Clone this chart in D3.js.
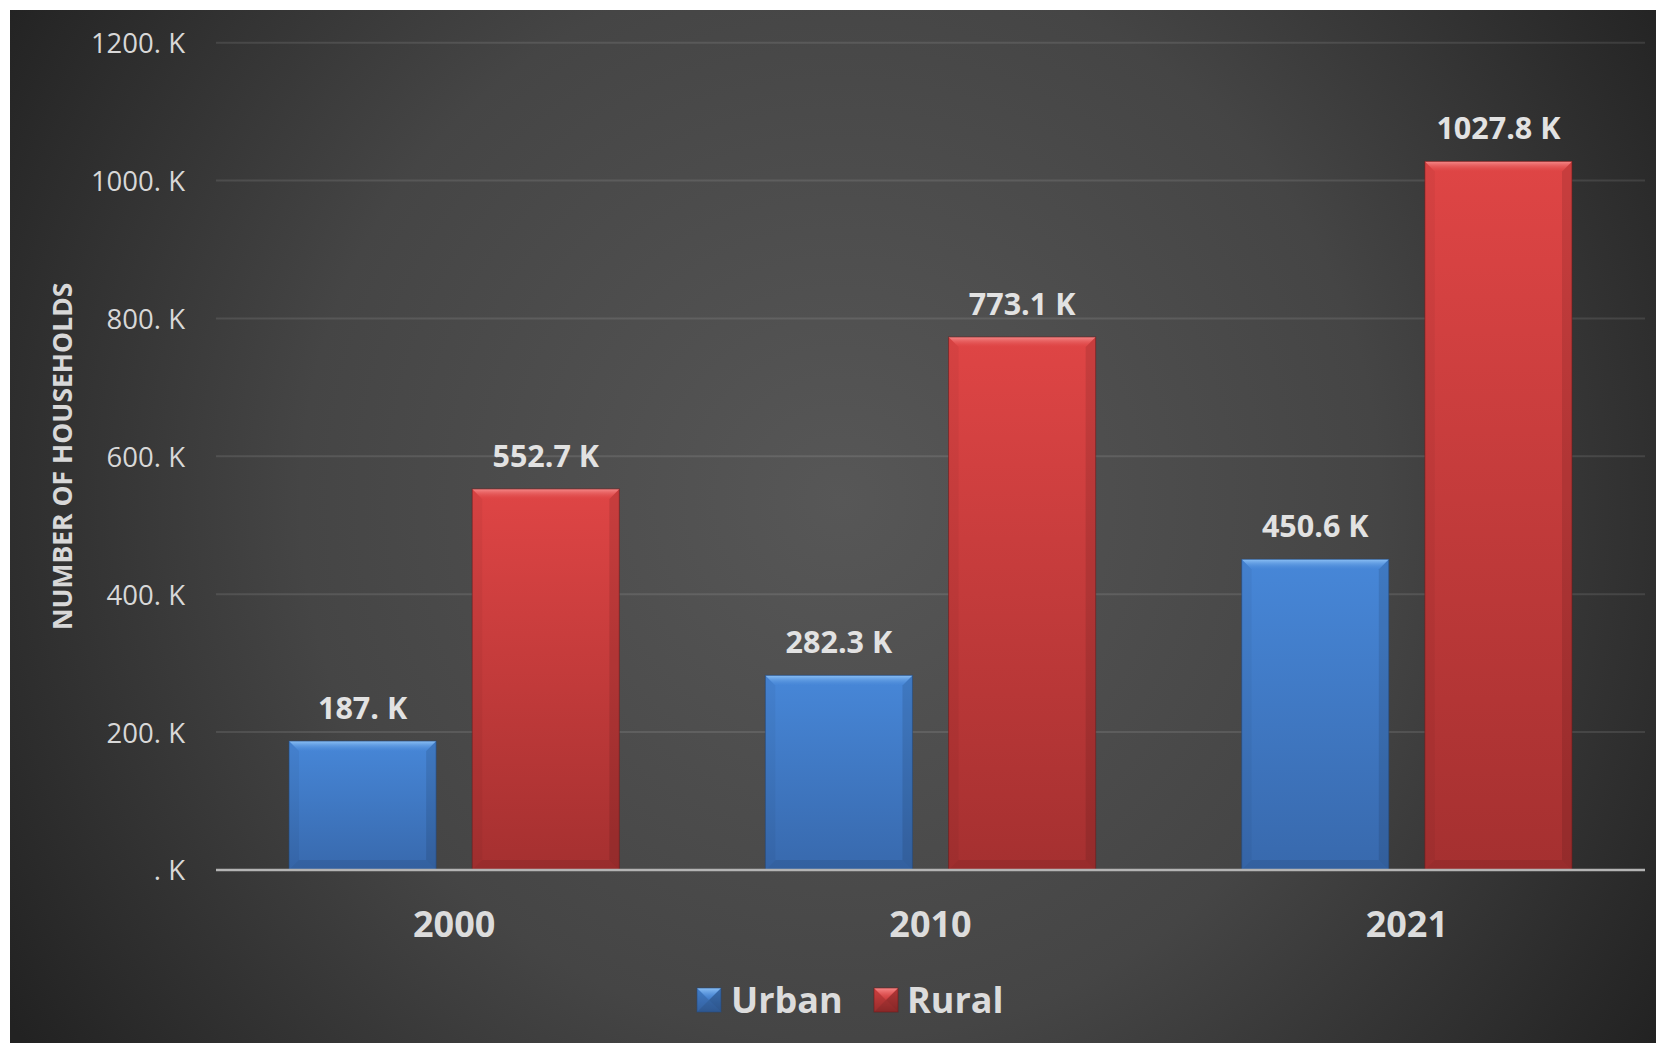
<!DOCTYPE html>
<html>
<head>
<meta charset="utf-8">
<script src="https://cdn.jsdelivr.net/npm/d3@7"></script>
<style>
  html, body { margin: 0; padding: 0; background: #ffffff; }
  svg { display: block; }
  text { font-family: "Open Sans", "DejaVu Sans", sans-serif; }
</style>
</head>
<body>
<svg id="chart" width="1656" height="1043"></svg>
<script>
// Households (thousands) by year and area type
const years = ["2000", "2010", "2021"];
const seriesNames = ["Urban", "Rural"];
const urbanValues = [187.0, 282.3, 450.6];
const ruralValues = [552.7, 773.1, 1027.8];
const yTicks = [0, 200, 400, 600, 800, 1000, 1200];
const yTitle = "NUMBER OF HOUSEHOLDS";

const seriesValues = { Urban: urbanValues, Rural: ruralValues };
const palette = {
  Urban: { top: "#4787d8", bottom: "#3869ad", hi: "#8cc0f4", edge: "#24497c" },
  Rural: { top: "#df4545", bottom: "#a53030", hi: "#f58a8a", edge: "#6e1c1c" }
};

const W = 1656, H = 1043;
const svg = d3.select("#chart");
const defs = svg.append("defs");

// panel background: radial vignette
const bg = defs.append("radialGradient").attr("id", "bg")
  .attr("gradientUnits", "userSpaceOnUse")
  .attr("cx", 840).attr("cy", 500).attr("r", 980);
bg.append("stop").attr("offset", "0").attr("stop-color", "#575757");
bg.append("stop").attr("offset", "0.55").attr("stop-color", "#454545");
bg.append("stop").attr("offset", "1").attr("stop-color", "#222222");

svg.append("rect").attr("x", 10).attr("y", 10)
  .attr("width", W - 10).attr("height", H - 10)
  .attr("fill", "url(#bg)");

// vertical body gradient + top highlight per series
seriesNames.forEach(s => {
  const g = defs.append("linearGradient").attr("id", "body-" + s)
    .attr("x1", 0).attr("y1", 0).attr("x2", 0).attr("y2", 1);
  g.append("stop").attr("offset", "0").attr("stop-color", palette[s].top);
  g.append("stop").attr("offset", "1").attr("stop-color", palette[s].bottom);
  const h = defs.append("linearGradient").attr("id", "hi-" + s)
    .attr("x1", 0).attr("y1", 0).attr("x2", 0).attr("y2", 1);
  h.append("stop").attr("offset", "0").attr("stop-color", palette[s].hi).attr("stop-opacity", 1);
  h.append("stop").attr("offset", "1").attr("stop-color", palette[s].top).attr("stop-opacity", 0.2);
});

const plot = { left: 216, right: 1645, top: 42.7, bottom: 870 };

const y = d3.scaleLinear().domain([0, 1200]).range([plot.bottom, plot.top]);
const x0 = d3.scaleBand().domain(years).range([plot.left, plot.right]).padding(0);
const bw0 = x0.bandwidth();
const x1 = d3.scaleBand().domain(seriesNames)
  .range([bw0 * 0.1533, bw0 * 0.8467]).paddingInner(0.197);

// gridlines
svg.append("g").selectAll("line").data(yTicks.filter(t => t > 0)).join("line")
  .attr("x1", plot.left).attr("x2", plot.right)
  .attr("y1", d => y(d)).attr("y2", d => y(d))
  .attr("stroke", "#ffffff").attr("stroke-opacity", 0.1).attr("stroke-width", 2);

// y axis tick labels
const tickFmt = v => (v === 0 ? "" : String(v)) + ". K";
const yAxis = d3.axisLeft(y).tickValues(yTicks).tickFormat(tickFmt).tickSize(0).tickPadding(0);
const yg = svg.append("g").attr("transform", `translate(${plot.left - 31},0)`).call(yAxis);
yg.select(".domain").remove();
yg.selectAll("text")
  .attr("fill", "#d8d8d8").attr("font-size", 27.5).attr("dy", "0.36em")
  .attr("font-family", "'Open Sans', sans-serif");

// y axis title
svg.append("text")
  .attr("transform", `translate(72,${(plot.top + plot.bottom) / 2}) rotate(-90)`)
  .attr("text-anchor", "middle")
  .attr("font-size", 26.5).attr("font-weight", 700).attr("fill", "#d8d8d8")
  .text(yTitle);

// bevelled bar
function bevelBar(g, s, bx, by, w, h, b, side) {
  g.append("rect").attr("x", bx).attr("y", by).attr("width", w).attr("height", h)
    .attr("fill", `url(#body-${s})`);
  // left face
  g.append("polygon")
    .attr("points", [[bx, by], [bx + b, by + b], [bx + b, by + h - b], [bx, by + h]].join(" "))
    .attr("fill", "#000").attr("fill-opacity", 0.04 * side);
  // right face
  g.append("polygon")
    .attr("points", [[bx + w, by], [bx + w - b, by + b], [bx + w - b, by + h - b], [bx + w, by + h]].join(" "))
    .attr("fill", "#000").attr("fill-opacity", 0.1 * side);
  // bottom face
  g.append("polygon")
    .attr("points", [[bx, by + h], [bx + b, by + h - b], [bx + w - b, by + h - b], [bx + w, by + h]].join(" "))
    .attr("fill", "#000").attr("fill-opacity", 0.08 * side);
  // top face
  g.append("polygon")
    .attr("points", [[bx, by], [bx + w, by], [bx + w - b, by + b], [bx + b, by + b]].join(" "))
    .attr("fill", `url(#hi-${s})`);
  g.append("rect").attr("x", bx).attr("y", by).attr("width", w).attr("height", h)
    .attr("fill", "none").attr("stroke", palette[s].edge).attr("stroke-opacity", 0.6).attr("stroke-width", 1);
}

// bars and value labels
const labelFmt = v => d3.format(".1f")(v).replace(/0$/, "") + " K";
const barsG = svg.append("g");
const labelsG = svg.append("g");
years.forEach((yr, i) => {
  seriesNames.forEach(s => {
    const v = seriesValues[s][i];
    const bx = x0(yr) + x1(s);
    const by = y(v);
    const bw = x1.bandwidth();
    bevelBar(barsG.append("g"), s, bx, by, bw, y(0) - by, 10, 1);
    labelsG.append("text")
      .attr("x", bx + bw / 2).attr("y", by - 22)
      .attr("text-anchor", "middle")
      .attr("font-size", 30.5).attr("font-weight", 700).attr("fill", "#e2e2e2")
      .text(labelFmt(v));
  });
});

// category axis
svg.append("line")
  .attr("x1", plot.left).attr("x2", plot.right)
  .attr("y1", y(0)).attr("y2", y(0))
  .attr("stroke", "#b4b4b4").attr("stroke-width", 2.5);
const xAxis = d3.axisBottom(x0).tickSize(0).tickPadding(0);
const xg = svg.append("g").attr("transform", `translate(0,${y(0)})`).call(xAxis);
xg.select(".domain").remove();
xg.selectAll("text")
  .attr("y", 67).attr("dy", 0)
  .attr("font-size", 36).attr("font-weight", 700).attr("fill", "#dcdcdc")
  .attr("font-family", "'Open Sans', sans-serif");

// legend
const legendItems = [
  { name: "Urban", mx: 697, tx: 731 },
  { name: "Rural", mx: 874, tx: 907 }
];
const lg = svg.append("g");
legendItems.forEach(it => {
  bevelBar(lg.append("g"), it.name, it.mx, 988, 24, 24, 12, 2);
  lg.append("text")
    .attr("x", it.tx).attr("y", 1013)
    .attr("font-size", 36).attr("font-weight", 700).attr("fill", "#dcdcdc")
    .text(it.name);
});
</script>
</body>
</html>
